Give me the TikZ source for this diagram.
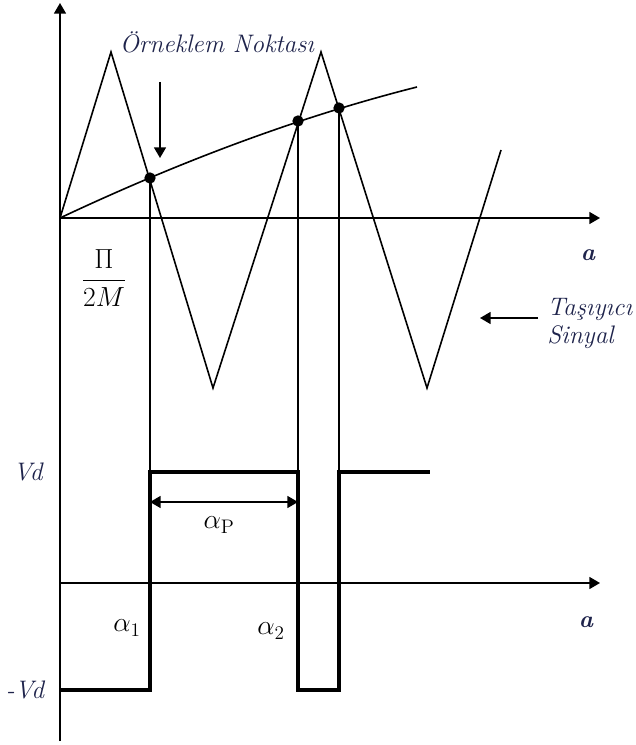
\documentclass[tikz,border=0pt]{standalone}
\usepackage{fontspec}
\usetikzlibrary{arrows.meta}
\definecolor{txtnavy}{RGB}{30,35,75}
\begin{document}
\begin{tikzpicture}[x=0.75pt,y=-0.75pt,
  thinline/.style={line width=1.2pt},
  thickline/.style={line width=2.4pt},
  tip/.style={-{Triangle[length=8pt,width=9pt]}},
  lbl/.style={text=txtnavy,font=\fontsize{19}{21}\selectfont\itshape,inner sep=0pt},
  axlbl/.style={text=txtnavy,font=\fontsize{18}{20}\selectfont\bfseries\itshape,inner sep=0pt},
  mlbl/.style={font=\fontsize{21}{24}\selectfont,inner sep=0pt},
  dot/.style={circle,fill=black,inner sep=0pt,minimum size=8.5pt}]
\useasboundingbox (0,0) rectangle (635,745);

% axes
\coordinate (ytop) at (60,3);
\coordinate (ybot) at (60,741);
\coordinate (O) at (60,218);
\coordinate (xend) at (600,218);
\coordinate (O2) at (60,583);
\coordinate (x2end) at (600,583);
\draw[thinline,tip] (ybot) -- (ytop);
\draw[thinline,tip] (O) -- (xend);
\draw[thinline,tip] (O2) -- (x2end);

% carrier triangle wave
\coordinate (p1) at (111,52);
\coordinate (p2) at (213,388);
\coordinate (p3) at (321,52);
\coordinate (p4) at (427,388);
\coordinate (p5) at (501,150);
\draw[thinline] (O) -- (p1) -- (p2) -- (p3) -- (p4) -- (p5);

% modulating curve
\coordinate (m1) at (150,178);
\coordinate (m2) at (298,121);
\coordinate (m3) at (339,108);
\coordinate (mend) at (417,87);
\draw[thinline] (O) .. controls (179,162) and (298,117) .. (mend);

% projection lines
\coordinate (h1) at (150,472);
\coordinate (h2) at (298,472);
\coordinate (h3) at (339,472);
\draw[thinline] (m1) -- (h1);
\draw[thinline] (m2) -- (h2);
\draw[thinline] (m3) -- (h3);

\node[dot] (d1) at (m1) {};
\node[dot] (d2) at (m2) {};
\node[dot] (d3) at (m3) {};

% pulse
\coordinate (q0) at (60,690);
\coordinate (q1) at (150,690);
\coordinate (q2) at (298,690);
\coordinate (q3) at (339,690);
\coordinate (q4) at (430,472);
\draw[thickline,line join=miter] (q0) -- (q1) -- (h1) -- (h2) -- (q2) -- (q3) -- (h3) -- (q4);

% alpha_P arrow
\coordinate (ap1) at (150,502);
\coordinate (ap2) at (298,502);
\draw[thinline,{Triangle[length=8pt,width=9pt]}-{Triangle[length=8pt,width=9pt]}] (ap1) -- (ap2);

% sample point label and arrow
\node[lbl] (samp) at (217,42) {Örneklem Noktası};
\coordinate (sa1) at (160,82);
\coordinate (sa2) at (160,158);
\draw[thinline,tip] (sa1) -- (sa2);

% carrier label and arrow
\node[lbl,align=left,anchor=west] (car) at (547,323) {Taşıyıcı\\Sinyal};
\coordinate (ca1) at (538,318);
\coordinate (ca2) at (480,318);
\draw[thinline,tip] (ca1) -- (ca2);

% axis labels
\node[axlbl] (a1) at (588,255) {a};
\node[axlbl] (a2) at (586,622) {a};
\node[lbl] (vd) at (28,472) {Vd};
\node[lbl] (mvd) at (25,690) {-Vd};

% math labels
\node[mlbl] (frac) at (104,278) {$\displaystyle\frac{\Pi}{2M}$};
\node[mlbl] (al1) at (127,628) {$\alpha_1$};
\node[mlbl] (al2) at (271,631) {$\alpha_2$};
\node[mlbl] (alp) at (219,525) {$\alpha_{\mathrm{P}}$};
\end{tikzpicture}
\end{document}
